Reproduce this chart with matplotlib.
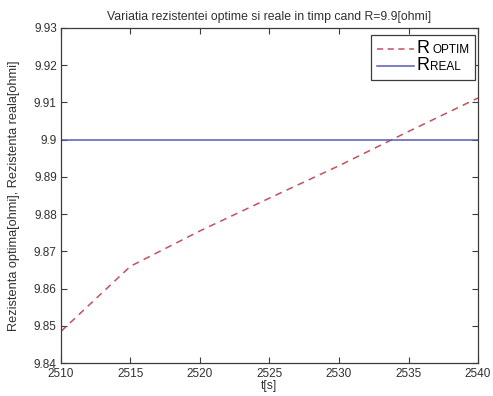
import matplotlib
matplotlib.use("Agg")
import matplotlib.pyplot as plt
from matplotlib.lines import Line2D
from matplotlib.offsetbox import (AnchoredOffsetbox, DrawingArea, HPacker,
                                  TextArea, VPacker)

plt.rcParams['font.family'] = ['Liberation Sans', 'DejaVu Sans']

# optimal resistance estimate over time
t = [2510, 2515, 2520, 2525, 2530, 2535, 2540]
r_optim = [9.8485, 9.8660, 9.8755, 9.8843, 9.8930, 9.9022, 9.9112]
# real (constant) resistance
r_real = 9.9

x_ticks = [2510, 2515, 2520, 2525, 2530, 2535, 2540]
y_ticks = [9.84, 9.85, 9.86, 9.87, 9.88, 9.89, 9.90, 9.91, 9.92, 9.93]
y_tick_labels = ['9.84', '9.85', '9.86', '9.87', '9.88', '9.89', '9.9',
                 '9.91', '9.92', '9.93']

red = '#c4505c'
blue = '#5a5ab4'
axis_col = '#3c3c3c'
text_col = '#303030'

fig = plt.figure(figsize=(4.93, 3.96), dpi=100)
ax = fig.add_axes([0.1237, 0.0833, 0.8459, 0.846])

ax.plot(t, r_optim, linestyle=(0, (4.5, 3.5)), color=red, linewidth=1.1)
ax.axhline(r_real, color=blue, linewidth=1.1)

ax.set_xlim(2510, 2540)
ax.set_ylim(9.84, 9.93)
ax.set_xticks(x_ticks)
ax.set_yticks(y_ticks)
ax.set_yticklabels(y_tick_labels)

for s in ax.spines.values():
    s.set_color(axis_col)
    s.set_linewidth(0.9)
ax.tick_params(direction='in', top=True, right=True, length=4,
               color=axis_col, labelsize=8.5, labelcolor=text_col)
ax.tick_params(axis='x', pad=3.5)
ax.tick_params(axis='y', pad=3)

ax.set_title('Variatia rezistentei optime si reale in timp cand R=9.9[ohmi]',
             fontsize=8.8, color=text_col, pad=6)
ax.set_xlabel('t[s]', fontsize=8.8, color=text_col, labelpad=0)
ax.set_ylabel('Rezistenta optima[ohmi], Rezistenta reala[ohmi]',
              fontsize=9.2, color=text_col)
ax.yaxis.set_label_coords(-0.098, 0.5)


def legend_row(style, color, gap, small):
    # sizes inside the offset boxes are in points
    da = DrawingArea(27, 8, 0, 0)
    da.add_artist(Line2D([0, 27], [4, 4], color=color, linewidth=1.1,
                         linestyle=style))
    txt = HPacker(children=[TextArea('R', textprops=dict(fontsize=13,
                                                          color='black')),
                            TextArea(small, textprops=dict(fontsize=8.5,
                                                           color='black'))],
                  align='baseline', pad=0, sep=gap)
    return HPacker(children=[da, txt], align='center', pad=0, sep=2)


rows = VPacker(children=[legend_row((0, (4, 3)), red, 2, 'OPTIM'),
                         legend_row('-', blue, 0, 'REAL')],
               align='left', pad=0, sep=0)
box = AnchoredOffsetbox(loc='upper right', child=rows, pad=0.38,
                        borderpad=0, frameon=True,
                        bbox_to_anchor=(0.993, 0.979),
                        bbox_transform=ax.transAxes)
box.patch.set_edgecolor(axis_col)
box.patch.set_linewidth(0.9)
ax.add_artist(box)

fig.savefig('out.png', dpi=100)
